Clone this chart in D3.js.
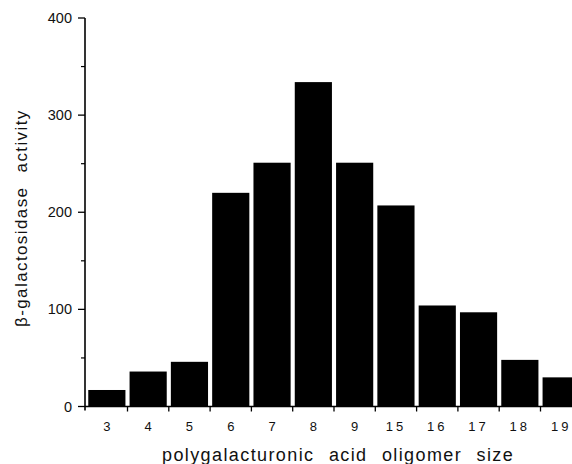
<html>
<head>
<meta charset="UTF-8">
<script src="https://cdn.jsdelivr.net/npm/d3@7"></script>
<style>
  body { margin: 0; background: #fff; }
  .axis text { font-family: "Liberation Sans", Arial, sans-serif; fill: #111; }
  .axis path, .axis line { stroke: #000; fill: none; }
</style>
</head>
<body>
<div class="chart"></div>
<script>
var sizes = ["3", "4", "5", "6", "7", "8", "9", "15", "16", "17", "18", "19"];
var activity = [17, 36, 46, 220, 251, 334, 251, 207, 104, 97, 48, 30];
var yTicks = [0, 100, 200, 300, 400];
var yMinor = [50, 150, 250, 350];

var data = sizes.map(function(s, i) { return {size: s, value: activity[i]}; });

var width = 572, height = 464;

var svg = d3.select(".chart").append("svg")
    .attr("width", width)
    .attr("height", height);

var x = d3.scaleBand()
    .domain(sizes)
    .range([86.2, 86.2 + 12 * 41.3])
    .paddingInner(0.1)
    .paddingOuter(0.05);

var y = d3.scaleLinear().domain([0, 400]).range([406.5, 18]);

// bars
svg.selectAll(".bar")
    .data(data)
  .enter().append("rect")
    .attr("class", "bar")
    .attr("x", function(d) { return x(d.size); })
    .attr("width", x.bandwidth())
    .attr("y", function(d) { return y(d.value); })
    .attr("height", function(d) { return y(0) - y(d.value); })
    .style("fill", "#000");

// y axis
var yAxis = svg.append("g")
    .attr("class", "axis")
    .attr("transform", "translate(85,0)");

yAxis.append("line")
    .attr("x1", 0).attr("x2", 0)
    .attr("y1", y(400)).attr("y2", y(0) + 4)
    .style("stroke-width", 1.6);

yAxis.selectAll(".major")
    .data(yTicks)
  .enter().append("line")
    .attr("x1", -7).attr("x2", 0)
    .attr("y1", function(d) { return y(d); })
    .attr("y2", function(d) { return y(d); })
    .style("stroke-width", 1.3);

yAxis.selectAll(".minor")
    .data(yMinor)
  .enter().append("line")
    .attr("x1", -4).attr("x2", 0)
    .attr("y1", function(d) { return y(d); })
    .attr("y2", function(d) { return y(d); })
    .style("stroke-width", 1.2);

yAxis.selectAll(".lab")
    .data(yTicks)
  .enter().append("text")
    .attr("x", -13)
    .attr("y", function(d) { return y(d); })
    .attr("dy", "0.35em")
    .style("text-anchor", "end")
    .style("font-size", "14.5px")
    .text(function(d) { return d; });

yAxis.append("text")
    .attr("transform", "translate(-58,327) rotate(-90)")
    .style("text-anchor", "start")
    .style("font-size", "17px")
    .style("letter-spacing", "1.4px")
    .style("word-spacing", "8px")
    .text("β-galactosidase activity");

// x axis
var xAxis = svg.append("g")
    .attr("class", "axis");

xAxis.append("line")
    .attr("x1", 85).attr("x2", width)
    .attr("y1", y(0)).attr("y2", y(0))
    .style("stroke-width", 1.5);

var step = x.step();
xAxis.selectAll(".tick")
    .data(sizes.slice(0, -1))
  .enter().append("line")
    .attr("x1", function(d) { return x(d) + x.bandwidth() + (step - x.bandwidth()) / 2; })
    .attr("x2", function(d) { return x(d) + x.bandwidth() + (step - x.bandwidth()) / 2; })
    .attr("y1", y(0))
    .attr("y2", y(0) + 5)
    .style("stroke-width", 1.3);

xAxis.selectAll(".lab")
    .data(sizes)
  .enter().append("text")
    .attr("x", function(d) { return x(d) + x.bandwidth() / 2; })
    .attr("y", 431)
    .style("text-anchor", "middle")
    .style("font-size", "13px")
    .style("letter-spacing", function(d) { return d.length > 1 ? "3px" : "0px"; })
    .text(function(d) { return d; });

xAxis.append("text")
    .attr("x", 162)
    .attr("y", 461)
    .style("text-anchor", "start")
    .style("font-size", "18px")
    .style("letter-spacing", "1.4px")
    .style("word-spacing", "8px")
    .text("polygalacturonic acid oligomer size");
</script>
</body>
</html>
